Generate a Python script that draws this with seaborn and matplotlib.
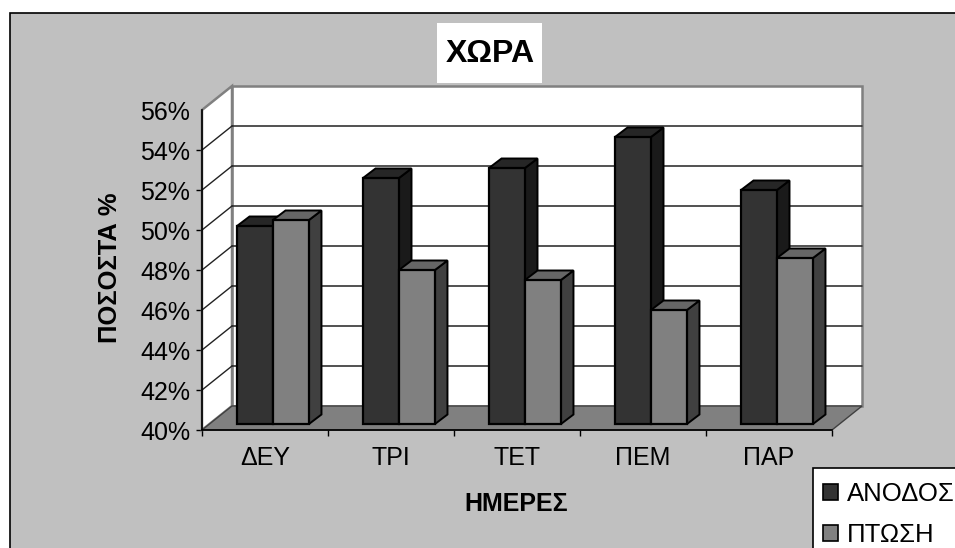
import matplotlib
matplotlib.use('Agg')
import matplotlib.pyplot as plt
import matplotlib.transforms as mtransforms
from matplotlib.patches import Polygon, Rectangle, Patch
import pandas as pd
import seaborn as sns

# data
days = ['ΔΕΥ', 'ΤΡΙ', 'ΤΕΤ', 'ΠΕΜ', 'ΠΑΡ']
anodos = [49.9, 52.3, 52.8, 54.35, 51.7]
ptosi = [50.2, 47.7, 47.2, 45.7, 48.3]
ytick_values = [40, 42, 44, 46, 48, 50, 52, 54, 56]
ytick_labels = ['40%', '42%', '44%', '46%', '48%', '50%', '52%', '54%', '56%']
series_names = ['ΑΝΟΔΟΣ', 'ΠΤΩΣΗ']

W, H = 955, 548
FRONT = {'ΑΝΟΔΟΣ': '#333333', 'ΠΤΩΣΗ': '#808080'}
TOP = {'ΑΝΟΔΟΣ': '#262626', 'ΠΤΩΣΗ': '#666666'}
SIDE = {'ΑΝΟΔΟΣ': '#1a1a1a', 'ΠΤΩΣΗ': '#404040'}

df = pd.DataFrame({
    'day': days * 2,
    'value': anodos + ptosi,
    'series': [series_names[0]] * 5 + [series_names[1]] * 5,
})

sns.set_theme(style='white')
plt.rcParams['font.family'] = ['Liberation Sans', 'DejaVu Sans']

fig = plt.figure(figsize=(W / 100, H / 100), dpi=100, facecolor='white')
# axes = front plane of the 3D box
ax = fig.add_axes([202 / W, 1 - 430 / H, 630 / W, 320 / H])
ax.patch.set_visible(False)


def px(x, y):
    return (x, H - y)


identity = mtransforms.IdentityTransform()

# chart area
fig.patches.append(Rectangle(px(9.5, 560), 960, 547.5, transform=identity, facecolor='#c0c0c0',
                             edgecolor='black', linewidth=1.2, figure=fig, zorder=-5))

sns.barplot(data=df, x='day', y='value', hue='series', hue_order=series_names, palette=FRONT,
            width=0.571, gap=0, saturation=1, edgecolor='black', linewidth=1.6,
            legend=False, ax=ax)
ax.set_xlim(-0.5, 4.5)
ax.set_ylim(40, 56)

# depth offsets in pixels
wall_tr = mtransforms.offset_copy(ax.transData, fig, x=30, y=24, units='dots')
bar_tr = mtransforms.offset_copy(ax.transData, fig, x=8, y=6, units='dots')
depth_x, depth_y = 12.5, 9.5

bars = sorted([b for b in ax.patches if isinstance(b, Rectangle)], key=lambda p: p.get_x())

# walls and floor
ax.add_patch(Polygon([px(232, 406), px(862, 406), px(862, 86), px(232, 86)], transform=identity,
                     facecolor='white', edgecolor='#808080', linewidth=1.8, zorder=0.5, clip_on=False))
ax.add_patch(Polygon([px(202, 430), px(232, 406), px(232, 86), px(202, 110)], transform=identity,
                     facecolor='white', edgecolor='#808080', linewidth=1.8, zorder=0.6, clip_on=False))
ax.add_patch(Polygon([px(202, 430), px(832, 430), px(862, 406), px(232, 406)], transform=identity,
                     facecolor='#808080', edgecolor='#404040', linewidth=1, zorder=0.7, clip_on=False))

# gridlines on back wall and side wall
for v in ytick_values[1:-1]:
    ax.plot([-0.5, 4.5], [v, v], color='#222222', lw=1.1, transform=wall_tr, zorder=1, clip_on=False)
    x0, y0 = ax.transData.transform((-0.5, v))
    ax.plot([x0, x0 + 30], [y0, y0 + 24], color='#222222', lw=1, transform=identity, zorder=1, clip_on=False)

# turn the flat bars into boxes
z = 3
for i, bar in enumerate(bars):
    name = series_names[i % 2]
    left, width, top = bar.get_x(), bar.get_width(), bar.get_height()
    bar.set_y(40)
    bar.set_height(top - 40)
    bar.set_transform(bar_tr)
    bar.set_clip_on(False)
    xl, yb = bar_tr.transform((left, 40))
    xr, yt = bar_tr.transform((left + width, top))
    side = [(xr, yb), (xr + depth_x, yb + depth_y), (xr + depth_x, yt + depth_y), (xr, yt)]
    lid = [(xl, yt), (xr, yt), (xr + depth_x, yt + depth_y), (xl + depth_x, yt + depth_y)]
    ax.add_patch(Polygon(side, transform=identity, facecolor=SIDE[name], edgecolor='black',
                         linewidth=1.4, zorder=z, clip_on=False))
    ax.add_patch(Polygon(lid, transform=identity, facecolor=TOP[name], edgecolor='black',
                         linewidth=1.4, zorder=z + 0.1, clip_on=False))
    bar.set_zorder(z + 0.2)
    z += 1

# axes, ticks
sns.despine(ax=ax, top=True, right=True)
for s in ['left', 'bottom']:
    ax.spines[s].set_color('black')
    ax.spines[s].set_linewidth(1.2)
ax.set_yticks(ytick_values, labels=ytick_labels)
ax.set_xticks([-0.5, 0.5, 1.5, 2.5, 3.5, 4.5], labels=[''] * 6)
ax.set_xticks(range(5), labels=days, minor=True)
ax.tick_params(axis='both', which='major', length=4.5, width=1, color='black', labelsize=18,
               labelcolor='black', bottom=True, left=True, pad=4)
ax.tick_params(axis='x', which='minor', length=0, labelsize=18, labelcolor='black', pad=11.5)
ax.yaxis.get_major_ticks()[-1].tick1line.set_visible(False)
ax.set_xlabel('')
ax.set_ylabel('')

# title and axis names
fig.patches.append(Rectangle(px(437, 83), 105, 60, transform=identity, facecolor='white',
                             edgecolor='none', figure=fig, zorder=-4))
fig.text(490 / W, 1 - 54 / H, 'ΧΩΡΑ', fontsize=23, fontweight='bold', color='black', ha='center', va='center')
fig.text(516.5 / W, 1 - 504 / H, 'ΗΜΕΡΕΣ', fontsize=18, fontweight='bold', color='black', ha='center', va='center')
fig.text(110 / W, 1 - 267.5 / H, 'ΠΟΣΟΣΤΑ %', fontsize=18.4, fontweight='bold', color='black', ha='center',
         va='center', rotation=90)

# legend box runs off the picture on the right and at the bottom
fig.patches.append(Rectangle(px(813, 560), 160, 92, transform=identity, facecolor='white',
                             edgecolor='black', linewidth=1.2, figure=fig, zorder=-3))
handles = [Patch(facecolor=FRONT[n], edgecolor='black', linewidth=1.2) for n in series_names]
fig.legend(handles, series_names, loc='upper left', bbox_to_anchor=(813 / W, 1 - 471.5 / H), borderaxespad=0,
           fontsize=18.5, frameon=False, handlelength=0.56, handleheight=0.56, handletextpad=0.35,
           labelspacing=0.67, borderpad=0.4, labelcolor='black')

fig.savefig('out.png', dpi=100)
